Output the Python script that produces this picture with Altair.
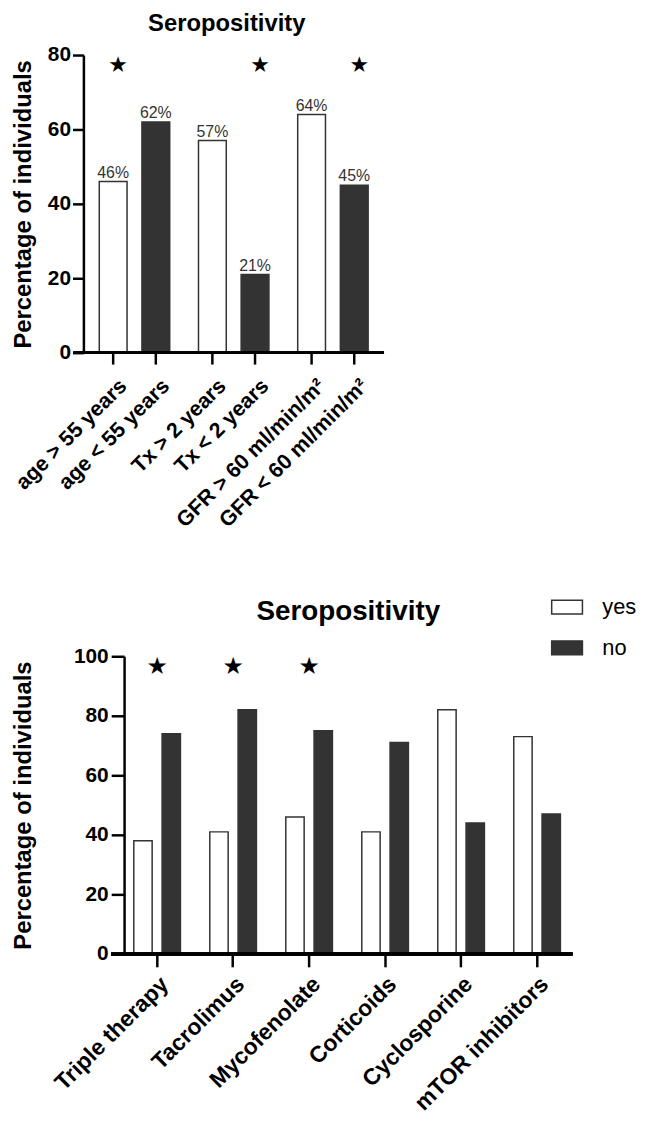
import altair as alt
import pandas as pd

# ---------------- data: upper panel ----------------
top_labels = ["age > 55 years", "age < 55 years", "Tx > 2 years", "Tx < 2 years",
              "GFR > 60 ml/min/m²", "GFR < 60 ml/min/m²"]
top_groups = ["age", "age", "Tx", "Tx", "GFR", "GFR"]
top_status = ["yes", "no", "yes", "no", "yes", "no"]
top_values = [46, 62, 57, 21, 64, 45]
top_star = [1, 0, 0, 1, 0, 1]
top_group_order = ["age", "Tx", "GFR"]
y_ticks_top = [0, 20, 40, 60, 80]

# ---------------- data: lower panel ----------------
drugs = ["Triple therapy", "Tacrolimus", "Mycofenolate", "Corticoids",
         "Cyclosporine", "mTOR inhibitors"]
yes_values = [38, 41, 46, 41, 82, 73]
no_values = [74, 82, 75, 71, 44, 47]
drug_star = [1, 1, 1, 0, 0, 0]
y_ticks_bottom = [0, 20, 40, 60, 80, 100]

status_order = ["yes", "no"]

# ---------------- styling ----------------
FONT = "Liberation Sans"
STAR_FONT = "DejaVu Sans"
DARK = "#333333"
W1, H1 = 303, 300
W2, H2 = 491, 300

fill_scale = alt.Scale(domain=status_order, range=["#ffffff", DARK])

# ---------------- upper chart ----------------
top_df = pd.DataFrame(dict(label=top_labels, grp=top_groups, status=top_status,
                           value=top_values, star=top_star))
top_df["pct"] = top_df["value"].astype(str) + "%"

x1 = alt.X("grp:N", sort=top_group_order, axis=None,
           scale=alt.Scale(domain=top_group_order, paddingInner=0.1, paddingOuter=0.065))
xo1 = alt.XOffset("status:N", sort=status_order,
                  scale=alt.Scale(domain=status_order, paddingInner=0.349, paddingOuter=0.221))
yscale1 = alt.Scale(domain=[0, 80], nice=False)
yax1 = alt.Axis(values=y_ticks_top, title="Percentage of individuals", tickSize=11,
                labelPadding=2, titlePadding=12, labelFontSize=21, labelFontWeight="bold",
                titleFontSize=24, titleFontWeight="bold")
y1 = alt.Y("value:Q", scale=yscale1, axis=yax1)

base1 = alt.Chart(top_df)
bars1 = base1.mark_bar(stroke=DARK, strokeWidth=1.5).encode(
    x=x1, xOffset=xo1, y=y1,
    fill=alt.Fill("status:N", scale=fill_scale, legend=None))
xline1 = base1.mark_rule(strokeWidth=2.5, color="black").encode(
    x=alt.value(-10), x2=alt.value(W1),
    y=alt.Y(datum=0, type="quantitative", scale=yscale1, axis=yax1))
pct1 = base1.mark_text(baseline="bottom", dy=-1, fontSize=16, color=DARK).encode(
    x=x1, xOffset=xo1, y=y1, text="pct:N")
stars1 = base1.transform_filter("datum.star == 1").mark_text(
    text="★", font=STAR_FONT, fontSize=22, baseline="middle", dx=5, color="black").encode(
    x=x1, xOffset=xo1, y=alt.value(10))
ticks1 = base1.mark_rule(strokeWidth=2.5, color="black").encode(
    x=x1, xOffset=xo1, y=alt.value(H1), y2=alt.value(H1 + 12))
labels1 = base1.mark_text(angle=315, align="right", baseline="top", fontSize=21.5,
                          fontWeight="bold", color="black", dy=4).encode(
    x=x1, xOffset=xo1, y=alt.value(H1 + 20), text="label:N")

top = alt.layer(bars1, xline1, pct1, stars1, ticks1, labels1).properties(
    width=W1, height=H1,
    title=alt.Title("Seropositivity", fontSize=24, fontWeight="bold",
                    anchor="middle", frame="group", dx=-7, offset=8))

# ---------------- lower chart ----------------
rows = []
for d, yv, nv in zip(drugs, yes_values, no_values):
    rows.append(dict(grp=d, status="yes", value=yv))
    rows.append(dict(grp=d, status="no", value=nv))
bot_df = pd.DataFrame(rows)
star_df = pd.DataFrame(dict(grp=drugs, star=drug_star))

x2 = alt.X("grp:N", sort=drugs,
           scale=alt.Scale(domain=drugs, paddingInner=0.12, paddingOuter=0.265, align=1),
           axis=alt.Axis(title=None, domain=False, tickSize=13, labelAngle=-45,
                         labelAlign="right", labelBaseline="top", labelPadding=6,
                         labelOffset=0, labelLimit=400, labelFontSize=23,
                         labelFontWeight="bold"))
xo2 = alt.XOffset("status:N", sort=status_order,
                  scale=alt.Scale(domain=status_order, paddingInner=0.351, paddingOuter=0.358))
yscale2 = alt.Scale(domain=[0, 100], nice=False)
yax2 = alt.Axis(values=y_ticks_bottom, title="Percentage of individuals", offset=-41,
                tickSize=13, labelPadding=3, titlePadding=38, labelFontSize=21,
                labelFontWeight="bold", titleFontSize=24, titleFontWeight="bold")
y2 = alt.Y("value:Q", scale=yscale2, axis=yax2)

base2 = alt.Chart(bot_df)
bars2 = base2.mark_bar(stroke=DARK, strokeWidth=1.5).encode(
    x=x2, xOffset=xo2, y=y2,
    fill=alt.Fill("status:N", scale=fill_scale,
                  legend=alt.Legend(title=None, orient="none", direction="vertical",
                                    legendX=471, legendY=-66,
                                    symbolType="M-1,-0.45H1V0.45H-1Z", symbolSize=961,
                                    symbolStrokeColor=DARK, symbolStrokeWidth=1.5,
                                    labelFontSize=22, labelOffset=19, rowPadding=13,
                                    labelFont=FONT, labelColor="black")))
xline2 = base2.mark_rule(strokeWidth=2.5, color="black").encode(
    x=alt.value(28), x2=alt.value(W2 + 2),
    y=alt.Y(datum=0, type="quantitative", scale=yscale2, axis=yax2))
stars2 = alt.Chart(star_df).transform_filter("datum.star == 1").mark_text(
    text="★", font=STAR_FONT, fontSize=24, baseline="middle", color="black").encode(
    x=x2, y=alt.value(11))

bottom = alt.layer(bars2, xline2, stars2).properties(
    width=W2, height=H2,
    title=alt.Title("Seropositivity", fontSize=28, fontWeight="bold",
                    anchor="middle", frame="group", dx=21.5, offset=-35))

chart = alt.vconcat(top, bottom, spacing=306, bounds="flush").resolve_scale(
    x="independent", y="independent", fill="independent", xOffset="independent"
).properties(
    padding={"left": 3, "top": 0, "right": 0, "bottom": 0}
).configure(font=FONT).configure_view(stroke=None).configure_axis(
    grid=False, domainColor="black", domainWidth=2.5, tickColor="black", tickWidth=2.5,
    labelColor="black", titleColor="black", labelFont=FONT, titleFont=FONT
).configure_title(font=FONT, color="black")

chart.save("out.html", embed_options={"renderer": "svg", "actions": False})
